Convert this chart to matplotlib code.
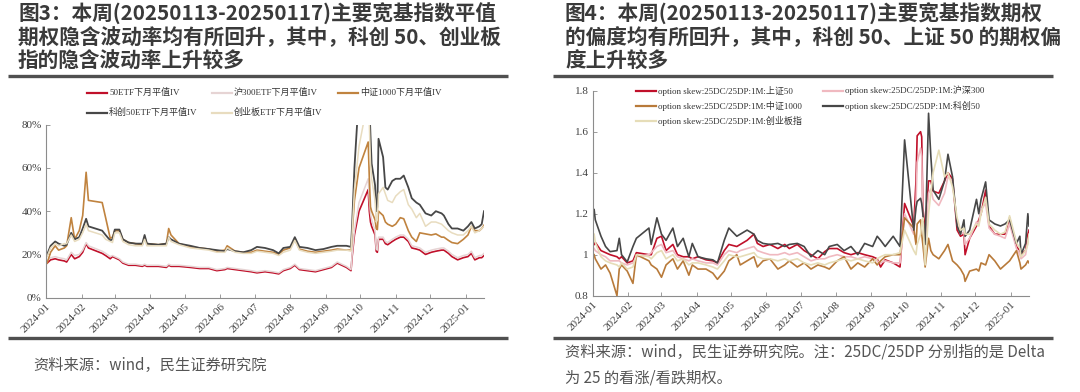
"""Weekly options report: ATM implied vol and 25-delta skew of broad-based index options."""

import matplotlib

matplotlib.use("Agg")

import matplotlib.dates as mdates
import matplotlib.pyplot as plt
import pandas as pd
from matplotlib.lines import Line2D
from matplotlib.ticker import FuncFormatter

CJK = ["Noto Sans CJK SC", "DejaVu Sans"]
SERIF = ["Liberation Serif", "Noto Sans CJK SC"]

# ---------------- left chart: next-month ATM implied vol (%) ----------------
IV_DATES = [
    "2024-01-02", "2024-01-05", "2024-01-09", "2024-01-12", "2024-01-17", "2024-01-19",
    "2024-01-23", "2024-01-26", "2024-01-30", "2024-02-02", "2024-02-05", "2024-02-07",
    "2024-02-19", "2024-02-22", "2024-02-26", "2024-02-28", "2024-03-01", "2024-03-05",
    "2024-03-08", "2024-03-13", "2024-03-19", "2024-03-25", "2024-03-27", "2024-03-29",
    "2024-04-08", "2024-04-15", "2024-04-17", "2024-04-19", "2024-04-26", "2024-05-06",
    "2024-05-14", "2024-05-22", "2024-05-29", "2024-06-05", "2024-06-07", "2024-06-14",
    "2024-06-21", "2024-06-28", "2024-07-03", "2024-07-10", "2024-07-17", "2024-07-22",
    "2024-07-26", "2024-08-01", "2024-08-05", "2024-08-09", "2024-08-16", "2024-08-23",
    "2024-08-30", "2024-09-06", "2024-09-11", "2024-09-19", "2024-09-23", "2024-09-24",
    "2024-09-26", "2024-09-30", "2024-10-08", "2024-10-09", "2024-10-10", "2024-10-11",
    "2024-10-14", "2024-10-15", "2024-10-16", "2024-10-17", "2024-10-21", "2024-10-23",
    "2024-10-25", "2024-10-29", "2024-11-01", "2024-11-05", "2024-11-08", "2024-11-12",
    "2024-11-15", "2024-11-19", "2024-11-22", "2024-11-27", "2024-12-02", "2024-12-06",
    "2024-12-11", "2024-12-13", "2024-12-17", "2024-12-20", "2024-12-25", "2024-12-30",
    "2025-01-03", "2025-01-06", "2025-01-09", "2025-01-13", "2025-01-15", "2025-01-17",
]
IV_50ETF = [
    16, 17.5, 18, 17.5, 17, 16.5, 20, 18, 19, 21, 25, 23,
    20.5, 19.5, 18, 19, 18.5, 17.5, 16, 15, 15, 14.5, 15, 14.5,
    14.5, 14, 15, 14.5, 14.5, 14, 13.5, 13.5, 12.5, 13, 13.5, 13,
    12.5, 12, 11.5, 12, 11.5, 11, 12.5, 13.5, 15, 13, 12.5, 12,
    13, 14, 16, 14, 12.5, 19, 29, 40, 50, 40, 35, 33,
    29, 21.5, 21, 27, 27, 25, 24.5, 26, 27, 28, 28, 26,
    23, 22.5, 22, 20, 21, 21.5, 22, 22, 20.5, 19, 17.5, 18.5,
    19, 20.5, 17.5, 18.5, 18.5, 19.5,
]
IV_HS300 = [
    17, 18.5, 19, 18.5, 18, 17.5, 21, 19.5, 20, 22, 25.5, 24,
    21.5, 20.5, 19, 19.5, 19, 18, 16.5, 15.5, 15.5, 15, 15.5, 15,
    15, 14.5, 15.5, 15, 15, 14.5, 14, 14, 13, 13.5, 14, 13.5,
    13, 12.5, 12, 12.5, 12, 11.5, 13, 14, 15.5, 13.5, 13, 12.5,
    13.5, 14.5, 16.5, 14.5, 13, 20, 31, 44, 55, 45, 39, 36,
    31, 22.5, 22, 28, 28, 26, 25.5, 27, 28, 29, 29, 27,
    24, 23.5, 23, 21, 22, 22.5, 23, 23, 21.5, 20, 18.5, 19.5,
    20, 21.5, 18.5, 19.5, 19.5, 20.5,
]
IV_CSI1000 = [
    16, 21, 24, 22, 23, 24, 37, 27, 31, 38, 58, 45,
    44, 37, 27.5, 28, 31, 31, 27, 25.5, 25, 24.5, 28, 25,
    24.5, 25, 32, 29, 25, 23.5, 23, 22.5, 21.5, 22, 24, 21.5,
    21, 21, 22, 21.5, 21, 20, 22, 23, 27, 22.5, 21.5, 21,
    21.5, 22, 22.5, 22, 22, 30, 45, 60, 72, 55, 42, 40,
    36, 32, 31.5, 40, 38, 35, 34, 33, 34, 37, 36.5, 31,
    28, 26, 30, 29.5, 29, 29.5, 28, 28, 26.5, 25.5, 25, 27,
    29, 33, 31, 31, 32, 33.5,
]
IV_STAR50 = [
    20, 24, 26, 25, 24, 24.5, 30, 27, 28, 32, 36.5, 33,
    31, 29, 26.5, 27, 31.5, 31.5, 27, 25.5, 25, 25, 29, 25,
    24.5, 25, 28, 27, 25, 24, 23, 22.5, 22, 21.5, 22.5, 21.5,
    21, 22, 23.5, 23, 22, 20.5, 23, 23.5, 28, 23.5, 23, 22,
    22.5, 23.5, 24, 24, 23.5, 34, 60, 95, 100, 90, 75, 62,
    52, 40, 42, 73.5, 65, 51, 50, 54, 55, 55, 56.5, 51,
    46, 44, 43, 39, 38, 40, 39, 38, 34, 32, 32, 31,
    33, 35, 32, 33, 34, 40,
]
IV_CHINEXT = [
    19, 23, 25, 24, 25, 25, 29, 26, 27, 30, 34, 31,
    29, 27, 26, 25.5, 30, 30, 26, 24.5, 24, 24, 27, 24,
    24, 24, 28, 26, 24.5, 23, 22.5, 22, 21, 21, 23, 21,
    20.5, 20.5, 21.5, 21, 20.5, 19.5, 21, 22, 26.5, 22, 21, 20.5,
    21, 21.5, 22, 22, 21.5, 30, 50, 70, 92, 80, 62, 55,
    45, 35, 36, 48, 51, 48, 45, 44, 47, 49, 50, 43,
    41, 37, 39, 33, 35, 35, 34, 33, 31, 30, 29, 29,
    31, 33, 30, 31, 32, 33,
]
IV_LABELS = ["50ETF下月平值IV", "沪300ETF下月平值IV", "中证1000下月平值IV",
             "科创50ETF下月平值IV", "创业板ETF下月平值IV"]

# ---------------- right chart: 1M 25DC/25DP skew ----------------
SKEW_DATES = [
    "2024-01-02", "2024-01-03", "2024-01-08", "2024-01-12", "2024-01-16", "2024-01-22",
    "2024-01-24", "2024-01-26", "2024-01-31", "2024-02-05", "2024-02-08", "2024-02-19",
    "2024-02-21", "2024-02-26", "2024-03-01", "2024-03-05", "2024-03-11", "2024-03-15",
    "2024-03-20", "2024-03-25", "2024-03-28", "2024-04-02", "2024-04-09", "2024-04-15",
    "2024-04-19", "2024-04-25", "2024-04-29", "2024-05-06", "2024-05-09", "2024-05-15",
    "2024-05-21", "2024-05-24", "2024-05-29", "2024-06-04", "2024-06-11", "2024-06-17",
    "2024-06-21", "2024-06-28", "2024-07-04", "2024-07-10", "2024-07-16", "2024-07-22",
    "2024-07-26", "2024-08-02", "2024-08-08", "2024-08-14", "2024-08-20", "2024-08-26",
    "2024-09-02", "2024-09-06", "2024-09-09", "2024-09-13", "2024-09-20", "2024-09-26",
    "2024-09-30", "2024-10-08", "2024-10-10", "2024-10-11", "2024-10-14", "2024-10-15",
    "2024-10-16", "2024-10-18", "2024-10-21", "2024-10-23", "2024-10-25", "2024-10-30",
    "2024-11-04", "2024-11-07", "2024-11-11", "2024-11-15", "2024-11-18", "2024-11-21",
    "2024-11-22", "2024-11-26", "2024-12-02", "2024-12-04", "2024-12-06", "2024-12-10",
    "2024-12-13", "2024-12-18", "2024-12-23", "2024-12-27", "2024-12-31", "2025-01-06",
    "2025-01-09", "2025-01-10", "2025-01-14", "2025-01-16", "2025-01-17",
]
SKEW_SSE50 = [
    1.05, 1.06, 1.02, 1.01, 1.00, 0.99, 0.98, 0.99, 0.96, 0.97, 1.01, 1.00,
    1.00, 1.08, 1.09, 1.02, 1.05, 1.00, 0.99, 0.99, 0.98, 0.99, 0.975, 0.97,
    0.96, 1.02, 1.05, 1.04, 1.05, 1.07, 1.10, 1.055, 1.04, 1.05, 1.03, 1.05,
    1.03, 1.05, 1.02, 1.00, 0.98, 1.015, 1.03, 1.03, 1.01, 1.00, 1.01, 1.00,
    0.99, 0.98, 0.94, 0.975, 0.96, 0.94, 1.25, 1.14, 1.36, 1.58, 1.60, 1.575,
    1.23, 1.12, 1.36, 1.36, 1.31, 1.30, 1.36, 1.40, 1.37, 1.12, 1.09, 1.10,
    1.00, 1.08, 1.14, 1.17, 1.20, 1.315, 1.14, 1.10, 1.10, 1.10, 1.18, 1.04,
    1.02, 1.00, 1.02, 1.10, 1.12,
]
SKEW_HS300 = [
    1.03, 1.02, 1.00, 0.99, 0.97, 0.97, 0.97, 0.96, 0.95, 0.96, 0.99, 1.00,
    1.01, 1.04, 1.05, 1.01, 1.02, 0.99, 0.98, 0.97, 0.98, 0.97, 0.96, 0.96,
    0.95, 1.00, 1.02, 1.01, 1.02, 1.03, 1.04, 1.02, 1.01, 1.00, 1.00, 1.01,
    1.00, 1.01, 0.99, 0.97, 0.98, 0.98, 0.99, 1.00, 0.99, 0.99, 0.98, 0.99,
    0.98, 0.97, 0.96, 0.97, 0.96, 0.96, 1.20, 1.10, 1.25, 1.45, 1.52, 1.48,
    1.18, 1.05, 1.30, 1.32, 1.27, 1.24, 1.30, 1.38, 1.36, 1.15, 1.10, 1.11,
    1.05, 1.08, 1.16, 1.15, 1.22, 1.25, 1.13, 1.10, 1.09, 1.08, 1.15, 1.03,
    1.00, 0.98, 1.00, 1.07, 1.09,
]
SKEW_CSI1000 = [
    1.00, 0.98, 0.93, 0.95, 0.91, 0.80, 0.93, 0.95, 0.92, 0.86, 1.00, 0.97,
    0.95, 0.93, 0.89, 0.95, 0.98, 0.93, 0.97, 0.90, 0.95, 0.93, 0.93, 0.91,
    0.88, 0.92, 0.97, 1.00, 0.95, 0.97, 0.99, 0.94, 0.97, 0.98, 0.93, 0.95,
    0.97, 0.94, 0.96, 0.93, 0.95, 0.94, 0.93, 0.97, 0.99, 0.93, 0.96, 0.94,
    0.98, 0.95, 0.97, 0.99, 1.00, 1.00, 1.18, 1.13, 1.05, 1.15, 1.17, 1.10,
    1.05, 0.94, 1.08, 1.02, 1.00, 0.98, 1.02, 1.05, 0.97, 0.95, 0.93, 0.90,
    0.87, 0.92, 0.93, 0.92, 0.96, 0.95, 1.00, 0.97, 0.93, 0.95, 0.97, 1.02,
    0.96, 0.93, 0.95, 0.97, 0.96,
]
SKEW_STAR50 = [
    1.22, 1.17, 1.09, 1.04, 1.015, 1.02, 1.08, 1.00, 0.965, 1.04, 1.08, 1.13,
    1.05, 1.18, 1.10, 1.07, 1.13, 1.04, 1.08, 0.99, 1.055, 0.99, 0.98, 0.975,
    0.96, 1.07, 1.13, 1.09, 1.10, 1.12, 1.10, 1.07, 1.055, 1.05, 1.055, 1.04,
    1.05, 1.055, 1.04, 0.99, 1.02, 1.00, 1.04, 1.05, 1.02, 1.04, 1.00, 1.055,
    1.04, 1.09, 1.07, 1.04, 1.09, 1.04, 1.56, 1.12, 1.23, 1.26, 1.275, 1.25,
    1.20, 1.05, 1.69, 1.48, 1.315, 1.27, 1.36, 1.49, 1.38, 1.14, 1.10, 1.17,
    1.09, 1.12, 1.27, 1.20, 1.27, 1.355, 1.17, 1.15, 1.14, 1.15, 1.17, 1.055,
    1.09, 1.00, 1.055, 1.20, 1.14,
]
SKEW_CHINEXT = [
    1.10, 1.06, 0.99, 0.97, 0.96, 0.95, 0.94, 0.96, 0.93, 0.94, 1.00, 0.99,
    0.98, 1.01, 1.02, 0.98, 1.00, 0.97, 0.98, 0.95, 0.96, 0.96, 0.95, 0.94,
    0.93, 0.97, 1.00, 0.99, 0.99, 1.00, 1.01, 0.99, 0.98, 0.98, 0.97, 0.98,
    0.97, 0.98, 0.96, 0.95, 0.96, 0.95, 0.96, 0.97, 0.98, 0.97, 0.98, 0.97,
    0.96, 0.98, 0.99, 1.00, 1.00, 1.01, 1.12, 1.02, 1.00, 1.05, 1.10, 1.15,
    1.18, 0.95, 1.20, 1.30, 1.40, 1.51, 1.38, 1.40, 1.33, 1.18, 1.12, 1.13,
    1.10, 1.10, 1.15, 1.14, 1.20, 1.28, 1.15, 1.12, 1.10, 1.11, 1.19, 1.06,
    1.03, 0.99, 1.02, 1.05, 1.10,
]
SKEW_PREFIX = "option skew:25DC/25DP:1M:"
SKEW_NAMES = ["上证50", "沪深300", "中证1000", "科创50", "创业板指"]

TITLE_L = ["图3：本周(20250113-20250117)主要宽基指数平值",
           "期权隐含波动率均有所回升，其中，科创 50、创业板",
           "指的隐含波动率上升较多"]
TITLE_R = ["图4：本周(20250113-20250117)主要宽基指数期权",
           "的偏度均有所回升，其中，科创 50、上证 50 的期权偏",
           "度上升较多"]
SOURCE_L = "资料来源：wind，民生证券研究院"
SOURCE_R = ["资料来源：wind，民生证券研究院。注：25DC/25DP 分别指的是 Delta",
            "为 25 的看涨/看跌期权。"]

IV_COLORS = ["#c0102a", "#e6d4d4", "#c0833f", "#474747", "#e8dcbf"]
SKEW_COLORS = ["#c0102a", "#f0b9c0", "#b87a3a", "#474747", "#e6ddb8"]

W, H = 1080, 392


def fx(px):
    return px / W


def fy(px):
    return 1 - px / H


def style_axes(ax):
    for side in ("top", "right"):
        ax.spines[side].set_visible(False)
    for side in ("left", "bottom"):
        ax.spines[side].set_color("#8c8c8c")
        ax.spines[side].set_linewidth(0.8)
    ax.xaxis.set_major_locator(mdates.MonthLocator())
    ax.xaxis.set_major_formatter(mdates.DateFormatter("%Y-%m"))
    ax.tick_params(axis="both", direction="in", length=3, width=0.6, color="#8c8c8c",
                   labelsize=8, labelcolor="#404040", pad=3)
    for lab in ax.get_xticklabels() + ax.get_yticklabels():
        lab.set_family(SERIF)
    for lab in ax.get_xticklabels():
        lab.set_rotation(45)
        lab.set_ha("right")
        lab.set_rotation_mode("anchor")


def legend_entry(fig, x_px, y_px, color, text, lw):
    fig.add_artist(Line2D([fx(x_px), fx(x_px + 20)], [fy(y_px), fy(y_px)],
                          transform=fig.transFigure, color=color, lw=lw))
    fig.text(fx(x_px + 22), fy(y_px), text, fontsize=6.5, family=SERIF,
             color="#333333", va="center", ha="left")


def hline(fig, x0, x1, y):
    fig.add_artist(Line2D([fx(x0), fx(x1)], [fy(y), fy(y)], transform=fig.transFigure,
                          color="#505050", lw=2.4, solid_capstyle="butt"))


def main():
    fig = plt.figure(figsize=(W / 100, H / 100), dpi=100)
    fig.patch.set_facecolor("white")

    # titles and rules
    for i, line in enumerate(TITLE_L):
        fig.text(fx(18), fy(14 + 23.8 * i), line, fontsize=14.9, fontweight="bold",
                 family=CJK, color="#3a3a3a", va="center", ha="left")
    for i, line in enumerate(TITLE_R):
        fig.text(fx(565), fy(14 + 23.8 * i), line, fontsize=14.9, fontweight="bold",
                 family=CJK, color="#3a3a3a", va="center", ha="left")
    hline(fig, 8, 508, 76)
    hline(fig, 553, 1053, 76)
    hline(fig, 8, 508, 338)
    hline(fig, 553, 1053, 338)

    # ---- left: implied vol ----
    axl = fig.add_axes([fx(46), fy(297.7), fx(484 - 46), (297.7 - 124.7) / H])
    d_iv = pd.to_datetime(IV_DATES)
    iv_series = [IV_50ETF, IV_HS300, IV_CSI1000, IV_STAR50, IV_CHINEXT]
    iv_widths = [1.2, 1.1, 1.2, 1.3, 1.1]
    for vals, color, lw in zip(iv_series, IV_COLORS, iv_widths):
        axl.plot(d_iv, vals, color=color, lw=lw)
    axl.set_ylim(0, 80)
    axl.set_yticks([0, 20, 40, 60, 80])
    axl.yaxis.set_major_formatter(FuncFormatter(lambda v, _: f"{v:.0f}%"))
    axl.set_xlim(pd.Timestamp("2024-01-01"), pd.Timestamp("2025-01-17"))
    style_axes(axl)

    cols_l = [87, 212, 338]
    pos_l = [(cols_l[0], 92.5), (cols_l[1], 92.5), (cols_l[2], 92.5),
             (cols_l[0], 112.5), (cols_l[1], 112.5)]
    for (x, y), color, label in zip(pos_l, IV_COLORS, IV_LABELS):
        legend_entry(fig, x, y, color, label, 1.6)

    # ---- right: skew ----
    axr = fig.add_axes([fx(593), fy(295.7), fx(1029 - 593), (295.7 - 90.7) / H])
    d_sk = pd.to_datetime(SKEW_DATES)
    sk_series = [SKEW_SSE50, SKEW_HS300, SKEW_CSI1000, SKEW_STAR50, SKEW_CHINEXT]
    for vals, color in zip(sk_series, SKEW_COLORS):
        axr.plot(d_sk, vals, color=color, lw=1.2)
    axr.set_ylim(0.8, 1.8)
    axr.set_yticks([0.8, 1.0, 1.2, 1.4, 1.6, 1.8])
    axr.yaxis.set_major_formatter(FuncFormatter(lambda v, _: f"{v:g}"))
    axr.set_xlim(pd.Timestamp("2024-01-01"), pd.Timestamp("2025-01-17"))
    style_axes(axr)

    pos_r = [(636, 90.7), (823, 90.7), (636, 105.7), (823, 105.7), (636, 120.7)]
    for (x, y), color, name in zip(pos_r, SKEW_COLORS, SKEW_NAMES):
        legend_entry(fig, x, y, color, SKEW_PREFIX + name, 1.6)

    # sources
    fig.text(fx(33), fy(365), SOURCE_L, fontsize=11, family=CJK, color="#555555",
             va="center", ha="left")
    for i, line in enumerate(SOURCE_R):
        fig.text(fx(565), fy(352 + 26 * i), line, fontsize=11, family=CJK,
                 color="#555555", va="center", ha="left")

    fig.savefig("out.png", dpi=100)
    plt.close(fig)


if __name__ == "__main__":
    main()
